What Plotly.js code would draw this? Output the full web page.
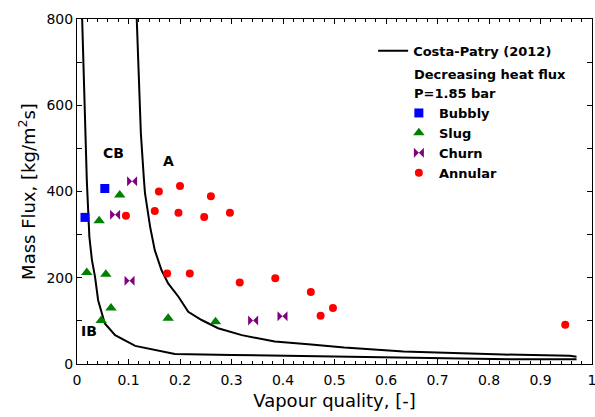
<!DOCTYPE html>
<html>
<head>
<meta charset="utf-8">
<script src="https://cdn.plot.ly/plotly-3.0.1.min.js"></script>
<style>html,body{margin:0;padding:0;background:#fff;}#chart{width:595px;height:417px;}</style>
</head>
<body>
<div id="chart"></div>
<script>
// Costa-Patry (2012) transition lines
const lineCB_x = [0.010, 0.014, 0.019, 0.024, 0.029, 0.035, 0.041, 0.054, 0.074, 0.113, 0.190, 0.30, 0.41, 0.49, 0.62, 0.84, 0.97];
const lineCB_y = [800, 612, 427, 295, 241, 202, 148, 94, 67, 42, 23, 21, 19, 18, 15, 11, 11];
const lineA_x = [0.116, 0.119, 0.124, 0.130, 0.132, 0.142, 0.151, 0.164, 0.177, 0.197, 0.216, 0.242, 0.274, 0.320, 0.384, 0.449, 0.519, 0.634, 0.705, 0.828, 0.957, 0.970];
const lineA_y = [800, 682, 535, 427, 396, 318, 264, 218, 187, 156, 121, 102, 83, 67, 52, 46, 38, 29, 26, 22, 19, 17];

// Flow pattern observations
const bubbly_x = [0.054, 0.0155];
const bubbly_y = [407, 340];
const slug_x = [0.083, 0.043, 0.019, 0.056, 0.066, 0.047, 0.177, 0.269];
const slug_y = [392, 332, 212, 208, 130, 101, 106, 98];
const churn_x = [0.107, 0.074, 0.102, 0.342, 0.399];
const churn_y = [424, 346, 193, 101, 111];
const annular_x = [0.159, 0.200, 0.260, 0.095, 0.151, 0.197, 0.247, 0.297, 0.175, 0.219, 0.316, 0.385, 0.454, 0.497, 0.473, 0.948];
const annular_y = [400, 413, 389, 344, 355, 351, 341, 351, 210, 210, 189, 199, 167, 130, 112, 91];

// Region labels
const region_labels = ['CB', 'A', 'IB'];
const region_x = [0.070, 0.177, 0.023];
const region_y = [489, 471, 77];

const legFont = {family: 'DejaVu Sans', size: 13, color: '#000', weight: 'bold'};

const traces = [
  {x: lineCB_x, y: lineCB_y, mode: 'lines', name: 'Costa-Patry (2012)', legendgroup: 'cp',
   line: {color: '#000', width: 2}, legend: 'legend', showlegend: true},
  {x: lineA_x, y: lineA_y, mode: 'lines', name: 'Costa-Patry (2012)', legendgroup: 'cp',
   line: {color: '#000', width: 2}, legend: 'legend', showlegend: false},
  {x: bubbly_x, y: bubbly_y, mode: 'markers', name: 'Bubbly', legend: 'legend2',
   marker: {symbol: 'square', size: 9, color: '#0000FF'}},
  {x: slug_x, y: slug_y, mode: 'markers', name: 'Slug', legend: 'legend2',
   marker: {symbol: 'triangle-up', size: 10, color: '#008000'}},
  {x: churn_x, y: churn_y, mode: 'markers', name: 'Churn', legend: 'legend2',
   marker: {symbol: 'bowtie', size: 10, color: '#800080'}},
  {x: annular_x, y: annular_y, mode: 'markers', name: 'Annular', legend: 'legend2',
   marker: {symbol: 'circle', size: 8, color: '#FF0000'}}
];

const annotations = region_labels.map((t, i) => ({
  x: region_x[i], y: region_y[i], xref: 'x', yref: 'y', text: t, showarrow: false,
  font: {family: 'DejaVu Sans', size: 14, color: '#000', weight: 'bold'}
}));
annotations.push(
  {x: 0.650, y: 0.838, xref: 'paper', yref: 'paper', xanchor: 'left', yanchor: 'middle',
   text: 'Decreasing heat flux', showarrow: false, font: legFont},
  {x: 0.650, y: 0.783, xref: 'paper', yref: 'paper', xanchor: 'left', yanchor: 'middle',
   text: 'P=1.85 bar', showarrow: false, font: legFont}
);

const layout = {
  width: 595, height: 417,
  margin: {l: 77, r: 3, t: 19, b: 53},
  paper_bgcolor: '#fff', plot_bgcolor: '#fff',
  font: {family: 'DejaVu Sans', color: '#000'},
  xaxis: {
    range: [0, 1], dtick: 0.1, tick0: 0, ticks: 'inside', ticklen: 5, tickcolor: '#000',
    showline: true, linecolor: '#000', linewidth: 1, mirror: 'allticks', showgrid: false, zeroline: false,
    tickfont: {family: 'DejaVu Sans', size: 14, color: '#000'},
    ticklabeloverflow: 'allow', ticklabelstandoff: 3,
    minor: {dtick: 0.02, ticks: 'inside', ticklen: 3, tickcolor: '#000', showgrid: false},
    title: {text: 'Vapour quality, [-]', font: {family: 'DejaVu Sans', size: 18, color: '#000'}, standoff: 7}
  },
  yaxis: {
    range: [0, 800], dtick: 200, tick0: 0, ticks: 'inside', ticklen: 5, tickcolor: '#000',
    showline: true, linecolor: '#000', linewidth: 1, mirror: 'allticks', showgrid: false, zeroline: false,
    tickfont: {family: 'DejaVu Sans', size: 14, color: '#000'},
    minor: {dtick: 100, ticks: 'inside', ticklen: 5, tickcolor: '#000', showgrid: false},
    title: {text: 'Mass Flux, [kg/m<sup>2</sup>s]', font: {family: 'DejaVu Sans', size: 18, color: '#000'}, standoff: 6}
  },
  legend: {x: 0.575, y: 0.951, xanchor: 'left', yanchor: 'top', bgcolor: 'rgba(0,0,0,0)',
    font: legFont, itemclick: false},
  legend2: {x: 0.625, y: 0.771, xanchor: 'left', yanchor: 'top', bgcolor: 'rgba(0,0,0,0)',
    font: legFont, itemclick: false},
  annotations: annotations,
  showlegend: true
};

Plotly.newPlot('chart', traces, layout, {displayModeBar: false, staticPlot: true});
</script>
</body>
</html>
